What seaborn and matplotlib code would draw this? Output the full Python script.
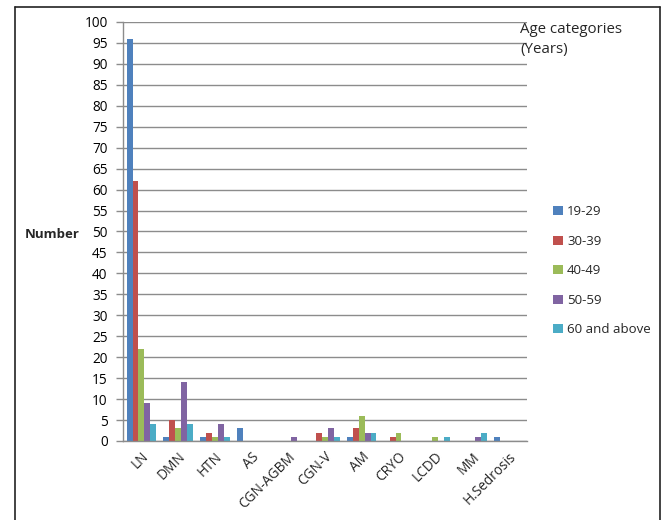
import matplotlib
matplotlib.use("Agg")
import matplotlib.pyplot as plt
import seaborn as sns
import pandas as pd
from matplotlib.lines import Line2D
from matplotlib.patches import Patch

categories = ["LN", "DMN", "HTN", "AS", "CGN-AGBM", "CGN-V", "AM", "CRYO", "LCDD", "MM", "H.Sedrosis"]
age_groups = ["19-29", "30-39", "40-49", "50-59", "60 and above"]
v_19_29 = [96, 1, 1, 3, 0, 0, 1, 0, 0, 0, 1]
v_30_39 = [62, 5, 2, 0, 0, 2, 3, 1, 0, 0, 0]
v_40_49 = [22, 3, 1, 0, 0, 1, 6, 2, 1, 0, 0]
v_50_59 = [9, 14, 4, 0, 1, 3, 2, 0, 0, 1, 0]
v_60_up = [4, 4, 1, 0, 0, 1, 2, 0, 1, 2, 0]
colors = ["#4F81BD", "#C0504D", "#9BBB59", "#8064A2", "#4BACC6"]

series = [v_19_29, v_30_39, v_40_49, v_50_59, v_60_up]
rows = []
for g, vals in zip(age_groups, series):
    for c, v in zip(categories, vals):
        rows.append({"Category": c, "Age": g, "Number": v})
df = pd.DataFrame(rows)

sns.set_theme(style="white")
plt.rcParams["font.family"] = ["Open Sans", "DejaVu Sans"]

fig = plt.figure(figsize=(6.61, 5.2), dpi=100)
ax = fig.add_axes([123/661, 1-441/520, (527-123)/661, (441-22)/520])

sns.barplot(data=df, x="Category", y="Number", hue="Age", order=categories,
            hue_order=age_groups, palette=colors, width=0.8, saturation=1,
            ax=ax, legend=False, errorbar=None, linewidth=0)

ax.set_ylim(0, 100)
ax.set_xlim(-0.5, len(categories) - 0.5)
ax.set_yticks(range(0, 101, 5))
ax.set_yticklabels([str(v) for v in range(0, 101, 5)], fontsize=9.8, color="#000000")
ax.yaxis.grid(True, color="#8c8c8c", linewidth=1.0)
ax.set_axisbelow(True)
ax.set_xlabel("")
ax.set_ylabel("")

# x ticks at category boundaries, labels at centers
ax.set_xticks([i - 0.5 for i in range(len(categories) + 1)], minor=False)
ax.set_xticklabels([""] * (len(categories) + 1))
ax.set_xticks(range(len(categories)), minor=True)
ax.set_xticklabels(categories, minor=True, rotation=45, ha="right",
                   rotation_mode="anchor", fontsize=9.8)
ax.tick_params(axis="x", which="minor", length=0, pad=6)
ax.tick_params(axis="x", which="major", length=5, width=1, color="#8c8c8c", direction="out")
ax.tick_params(axis="y", length=5, width=1, color="#8c8c8c", direction="out", left=True, pad=6)

for s in ["top", "right"]:
    ax.spines[s].set_visible(False)
for s in ["left", "bottom"]:
    ax.spines[s].set_color("#8c8c8c")
    ax.spines[s].set_linewidth(1.0)

fig.text(25/661, 1-234/520, "Number", fontsize=9.5, fontweight="bold", va="center", ha="left")
fig.text(520/661, 1-22/520, "Age categories\n(Years)", fontsize=10.8, va="top", ha="left",
         linespacing=1.45)

handles = [Patch(facecolor=c, edgecolor="none") for c in colors]
fig.legend(handles, age_groups, loc="upper left", bbox_to_anchor=(548/661, 1-200/520),
           frameon=False, fontsize=9.5, handlelength=0.7, handleheight=0.7,
           handletextpad=0.35, labelspacing=1.25, borderaxespad=0)

# outer frame (left, top, right)
fig.add_artist(Line2D([15/661, 15/661], [0, 1-7/520], color="#222222", linewidth=1.2, transform=fig.transFigure))
fig.add_artist(Line2D([15/661, 660/661], [1-7/520, 1-7/520], color="#222222", linewidth=1.2, transform=fig.transFigure))
fig.add_artist(Line2D([660/661, 660/661], [0, 1-7/520], color="#222222", linewidth=1.2, transform=fig.transFigure))

fig.savefig("out.png", dpi=100)
